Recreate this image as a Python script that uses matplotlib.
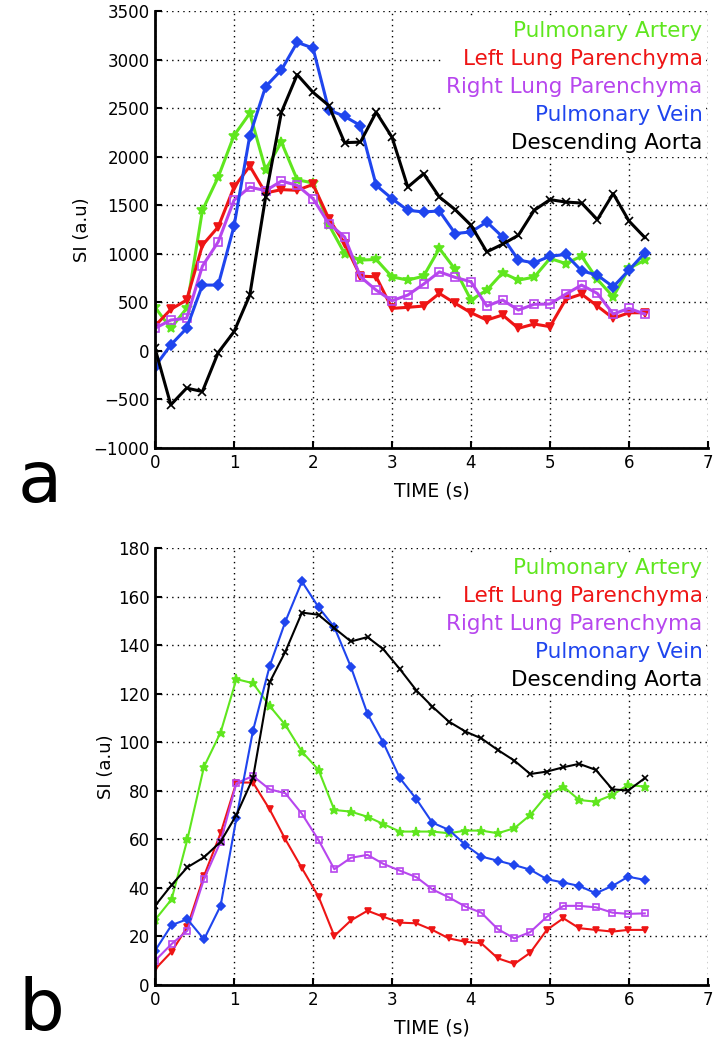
import matplotlib.pyplot as plt

# time axes (s)
time_a = [0.0, 0.2, 0.4, 0.6, 0.8, 1.0, 1.2, 1.4, 1.6, 1.8, 2.0, 2.2, 2.4, 2.6, 2.8, 3.0,
          3.2, 3.4, 3.6, 3.8, 4.0, 4.2, 4.4, 4.6, 4.8, 5.0, 5.2, 5.4, 5.6, 5.8, 6.0, 6.2]
time_b = [0.0, 0.21, 0.41, 0.62, 0.83, 1.03, 1.24, 1.45, 1.65, 1.86, 2.07, 2.27, 2.48, 2.69, 2.89, 3.1,
          3.31, 3.51, 3.72, 3.93, 4.13, 4.34, 4.55, 4.75, 4.96, 5.17, 5.37, 5.58, 5.79, 5.99, 6.2]

labels = ["Pulmonary Artery", "Left Lung Parenchyma", "Right Lung Parenchyma",
          "Pulmonary Vein", "Descending Aorta"]

# panel a
artery_a = [449, 233, 438, 1448, 1790, 2218, 2447, 1866, 2150, 1763, 1729, 1300, 1003, 935, 942, 763,
            729, 770, 1055, 839, 524, 626, 804, 729, 760, 952, 900, 976, 736, 558, 849, 935]
left_a = [257, 428, 524, 1089, 1277, 1687, 1903, 1626, 1661, 1654, 1715, 1363, 1106, 770, 763, 438,
          449, 462, 592, 490, 393, 318, 370, 233, 277, 250, 531, 585, 462, 336, 393, 393]
right_a = [233, 318, 336, 873, 1123, 1551, 1687, 1650, 1749, 1705, 1568, 1311, 1174, 763, 626, 517,
           575, 688, 814, 757, 712, 462, 524, 421, 480, 483, 585, 678, 592, 380, 438, 380]
vein_a = [-161, 62, 233, 678, 678, 1284, 2218, 2722, 2893, 3177, 3119, 2482, 2415, 2321, 1705, 1568,
          1448, 1431, 1441, 1209, 1225, 1328, 1174, 935, 907, 976, 993, 825, 780, 660, 832, 1010]
aorta_a = [28, -555, -383, -418, -17, 198, 575, 1585, 2458, 2845, 2663, 2527, 2145, 2150, 2458, 2201,
           1687, 1825, 1585, 1455, 1294, 1020, 1099, 1191, 1448, 1558, 1533, 1523, 1352, 1620, 1338, 1168]

# panel b
artery_b = [26.8, 35.3, 60.0, 89.9, 104.0, 126.0, 124.3, 115.0, 107.1, 96.1, 88.6, 72.1, 71.4, 69.3, 66.3, 63.2,
            63.2, 63.2, 62.5, 63.6, 63.6, 62.5, 64.6, 70.0, 78.3, 81.7, 76.2, 75.5, 78.3, 82.4, 81.7]
left_b = [6.5, 13.7, 24.0, 44.9, 62.5, 83.4, 83.4, 72.4, 60.0, 48.1, 36.4, 20.2, 26.6, 30.6, 28.1, 25.7,
          25.4, 22.7, 19.2, 17.8, 17.2, 11.0, 8.7, 13.3, 22.7, 27.5, 23.4, 22.7, 22.0, 22.7, 22.7]
right_b = [10.0, 16.9, 22.4, 43.6, 59.0, 83.1, 86.1, 80.6, 79.0, 70.5, 59.7, 47.7, 52.4, 53.6, 49.9, 47.1,
           44.4, 39.4, 36.1, 32.3, 29.8, 23.0, 19.2, 21.8, 28.1, 32.6, 32.6, 32.0, 29.8, 29.3, 29.5]
vein_b = [14.1, 24.7, 27.1, 18.8, 32.6, 68.7, 104.7, 131.2, 149.7, 166.2, 155.6, 147.4, 131.0, 111.7, 99.8, 85.2,
          76.5, 66.9, 63.9, 57.7, 52.9, 51.2, 49.4, 47.5, 43.6, 42.2, 40.8, 37.8, 40.8, 44.6, 43.3]
aorta_b = [32.6, 41.2, 48.5, 52.6, 59.0, 70.0, 85.2, 124.6, 137.3, 153.4, 152.5, 147.0, 141.5, 143.3, 138.3, 130.1,
           121.3, 114.7, 108.5, 104.4, 101.6, 96.8, 92.4, 86.9, 87.9, 89.7, 91.1, 88.6, 80.6, 80.1, 85.2]

colors = ["#5fe61e", "#ee1515", "#b746ee", "#1f45ee", "black"]
markers = ["*", "v", "s", "D", "x"]
fills = [True, True, False, True, True]

fig = plt.figure(figsize=(7.23, 10.5), dpi=100)
ax_a = fig.add_axes([0.2144, 0.5733, 0.7648, 0.4162])
ax_b = fig.add_axes([0.2144, 0.0619, 0.7648, 0.4162])


def draw(ax, t, series, lw, ms):
    lines = []
    for y, c, m, f, lab in zip(series, colors, markers, fills, labels):
        size = ms + 2 if m == "*" else ms
        ln, = ax.plot(t, y, color=c, marker=m, lw=lw, ms=size, mew=1.2,
                      mfc=c if f else "none", label=lab)
        lines.append(ln)
    ax.grid(True, color="black", linestyle=(0, (1, 3)), linewidth=1.0)
    ax.set_axisbelow(True)
    ax.set_xlim(0, 7)
    ax.set_xticks(range(0, 8))
    for s in ["top", "right"]:
        ax.spines[s].set_visible(False)
    for s in ["left", "bottom"]:
        ax.spines[s].set_linewidth(2)
    ax.tick_params(direction="in", length=5, width=1.5, labelsize=12, pad=4)
    ax.set_xlabel("TIME (s)", fontsize=13.5, labelpad=7)
    ax.set_ylabel("SI (a.u)", fontsize=13, labelpad=2)
    leg = ax.legend(handles=lines, loc="upper right", bbox_to_anchor=(1.0, 0.99),
                    frameon=True, fancybox=False,
                    edgecolor="none", facecolor="white", framealpha=1,
                    handlelength=0, handletextpad=0, markerfirst=False,
                    labelcolor="linecolor", fontsize=15.5, labelspacing=0.38,
                    borderaxespad=0.1, borderpad=0.15)
    for h in leg.legend_handles:
        h.set_visible(False)


draw(ax_a, time_a, [artery_a, left_a, right_a, vein_a, aorta_a], 2.2, 5.5)
ax_a.set_ylim(-1000, 3500)
ax_a.set_yticks(range(-1000, 3501, 500))

draw(ax_b, time_b, [artery_b, left_b, right_b, vein_b, aorta_b], 1.5, 4.5)
ax_b.set_ylim(0, 180)
ax_b.set_yticks(range(0, 181, 20))

fig.text(0.025, 0.522, "a", fontsize=52, va="baseline")
fig.text(0.025, 0.019, "b", fontsize=52, va="baseline")

fig.savefig("out.png", dpi=100)
